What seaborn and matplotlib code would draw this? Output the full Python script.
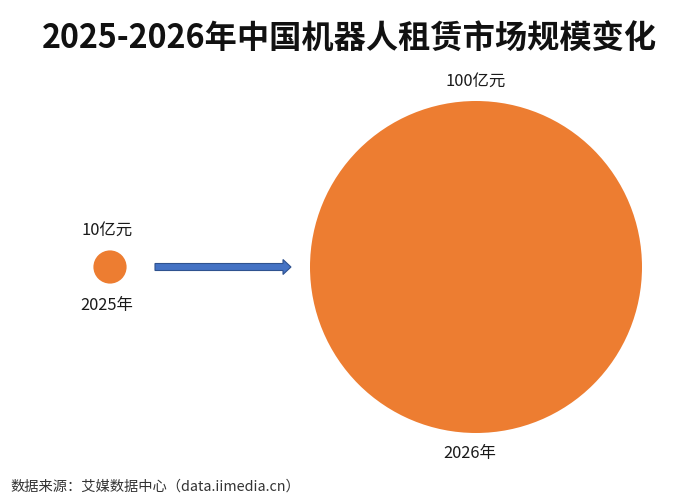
import matplotlib
matplotlib.use("Agg")
import matplotlib.pyplot as plt
import seaborn as sns
import pandas as pd
from matplotlib.patches import FancyArrow

sns.set_theme(style="white")
plt.rcParams['font.family'] = ['Noto Sans CJK SC', 'DejaVu Sans']

# Data
years = ["2025年", "2026年"]
values = [10, 100]
value_labels = ["10亿元", "100亿元"]
title = "2025-2026年中国机器人租赁市场规模变化"
source = "数据来源：艾媒数据中心（data.iimedia.cn）"

# Layout (pixel coordinates)
W, H = 700, 502
centers_x = [110, 476]
center_y = 268
px_per_unit = 1.66  # radius in px per 亿元

df = pd.DataFrame({"year": years, "value": values, "x": centers_x, "y": [center_y] * 2})

fig = plt.figure(figsize=(7.0, 5.02), dpi=100)
ax = fig.add_axes([0, 0, 1, 1])
ax.set_xlim(0, W)
ax.set_ylim(H, 0)
ax.axis("off")

# marker size in points^2: diameter(pt) = 2 * radius_px * 72/100
size_map = {v: (2 * v * px_per_unit * 0.72) ** 2 for v in values}
sns.scatterplot(data=df, x="x", y="y", size="value", sizes=size_map,
                color="#ED7D31", linewidth=0, legend=False, ax=ax, zorder=2)

# Arrow
ax.add_patch(FancyArrow(155, center_y, 128, 0, width=7, head_width=15,
                        head_length=8, length_includes_head=False,
                        facecolor="#4472C4", edgecolor="#2F528F", linewidth=0.8, zorder=3))

# Labels
lab_fs = 11.8
ax.text(centers_x[0] - 3, 230, value_labels[0], ha="center", va="center", fontsize=lab_fs, color="#1a1a1a")
ax.text(centers_x[0] - 3, 306, years[0], ha="center", va="center", fontsize=lab_fs, color="#1a1a1a")
ax.text(centers_x[1], 81, value_labels[1], ha="center", va="center", fontsize=lab_fs, color="#1a1a1a")
ax.text(centers_x[1] - 6, 454, years[1], ha="center", va="center", fontsize=lab_fs, color="#1a1a1a")

ax.text(W / 2 - 1, 38, title, ha="center", va="center", fontsize=23.2, fontweight="bold", color="#111111")
ax.text(10, 487, source, ha="left", va="center", fontsize=10.3, color="#333333")

fig.savefig("out.png", dpi=100)
